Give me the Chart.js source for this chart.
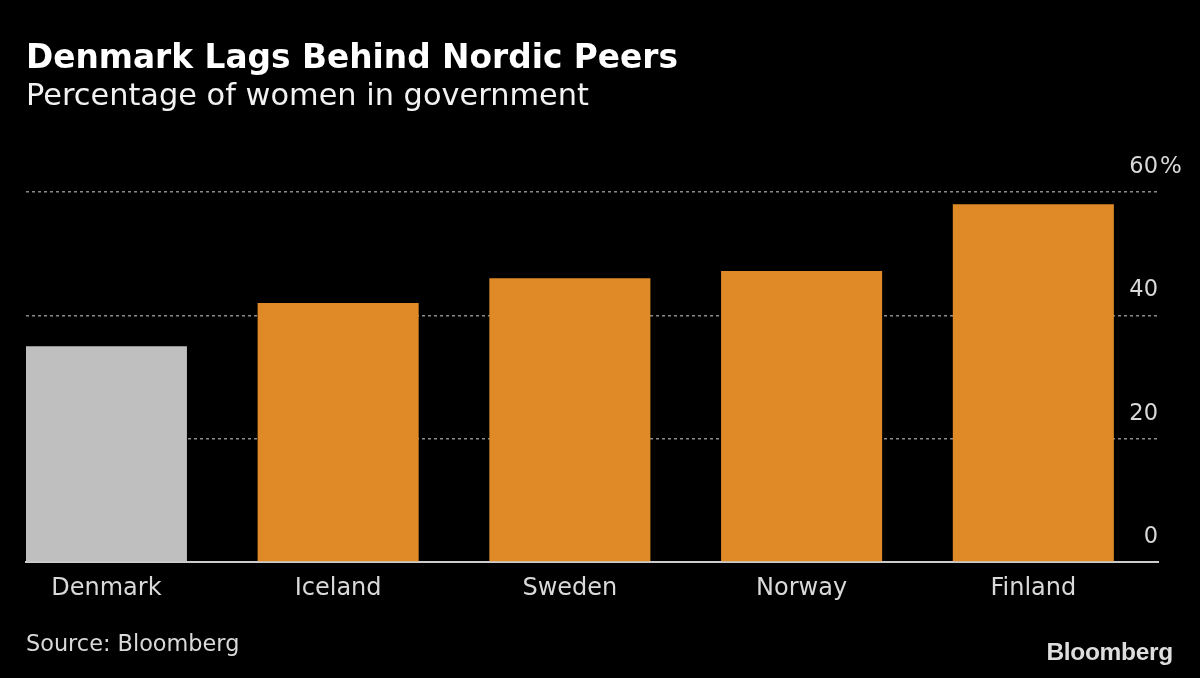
<!DOCTYPE html>
<html>
<head>
<meta charset="utf-8">
<script src="https://cdn.jsdelivr.net/npm/chart.js@4/dist/chart.umd.min.js"></script>
<style>
  html, body { margin: 0; padding: 0; background: #000; }
  body { width: 1200px; height: 678px; position: relative; overflow: hidden; font-family: 'DejaVu Sans', sans-serif; }
  #wrap { position: absolute; left: 0; top: 0; width: 1200px; height: 678px; }
  .txt { position: absolute; white-space: nowrap; line-height: 1; }
  #title { left: 26px; top: 41px; font-size: 32.8px; font-weight: bold; color: #fff; }
  #subtitle { left: 26px; top: 80px; font-size: 30.4px; color: #f2f2f2; }
  #source { left: 26px; top: 632px; font-size: 22.4px; color: #d9d9d9; }
  #logo { right: 27px; top: 640px; font-size: 24.5px; font-weight: bold; color: #dedede; font-family: 'Liberation Sans', Arial, sans-serif; letter-spacing: -0.3px; }
</style>
</head>
<body>
<div id="wrap"><canvas id="chart" width="1200" height="678"></canvas></div>
<div class="txt" id="title">Denmark Lags Behind Nordic Peers</div>
<div class="txt" id="subtitle">Percentage of women in government</div>
<div class="txt" id="source">Source: Bloomberg</div>
<div class="txt" id="logo">Bloomberg</div>
<script>
const countries = ['Denmark', 'Iceland', 'Sweden', 'Norway', 'Finland'];
const womenShare = [35, 42, 46, 47.2, 58];
const barColors = ['#bfbfbf', '#df8a26', '#df8a26', '#df8a26', '#df8a26'];
const yTicks = [0, 20, 40, 60];

const labelFont = {family: "'DejaVu Sans', sans-serif", size: 22.5};

// adds the "%" after the top tick label, like the original
const percentSign = {
  id: 'percentSign',
  afterDraw(chart) {
    const y = chart.scales.y;
    const ctx = chart.ctx;
    ctx.save();
    ctx.font = "23px 'DejaVu Sans', sans-serif";
    ctx.fillStyle = '#d9d9d9';
    ctx.textAlign = 'left';
    ctx.textBaseline = 'middle';
    ctx.fillText('%', y.left + 2, y.getPixelForValue(60) - 25);
    ctx.restore();
  },
};

const ctx = document.getElementById('chart').getContext('2d');

new Chart(ctx, {
  type: 'bar',
  data: {
    datasets: [
      {
        data: womenShare.map((v, i) => ({x: i, y: v})),
        backgroundColor: barColors,
        borderWidth: 0,
        barPercentage: 0.695,
        categoryPercentage: 1,
      },
    ],
  },
  options: {
    responsive: false,
    animation: false,
    layout: {padding: {left: 26, right: 42, top: 192, bottom: 66}},
    plugins: {
      legend: {display: false},
      tooltip: {enabled: false},
    },
    scales: {
      x: {
        type: 'linear',
        offset: false,
        min: -0.347,
        max: 4.538,
        afterBuildTicks: (scale) => {
          scale.ticks = countries.map((c, i) => ({value: i}));
        },
        afterFit: (scale) => {
          scale.height = 50;
        },
        grid: {display: false, drawTicks: false},
        border: {display: true, color: '#cccccc', width: 2},
        ticks: {
          color: '#d9d9d9',
          font: {family: "'DejaVu Sans', sans-serif", size: 24},
          padding: 12,
          maxRotation: 0,
          autoSkip: false,
          callback: (v) => countries[v],
        },
      },
      y: {
        position: 'right',
        min: 0,
        max: 60,
        afterBuildTicks: (scale) => {
          scale.ticks = yTicks.map((v) => ({value: v}));
        },
        afterFit: (scale) => {
          scale.width = 0;
        },
        grid: {
          drawTicks: false,
          color: (c) => (c.tick && c.tick.value === 0 ? 'rgba(0,0,0,0)' : '#8c8c8c'),
          lineWidth: 1.5,
        },
        border: {display: false, dash: [3, 3]},
        ticks: {
          mirror: true,
          padding: 0,
          labelOffset: -25,
          color: '#d9d9d9',
          font: labelFont,
          callback: (v) => String(v),
        },
      },
    },
  },
  plugins: [percentSign],
});
</script>
</body>
</html>
